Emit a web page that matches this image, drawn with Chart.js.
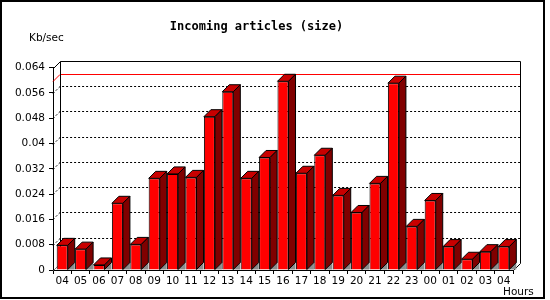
<!DOCTYPE html>
<html>
<head>
<meta charset="utf-8">
<script src="https://cdn.jsdelivr.net/npm/chart.js@4.4.1/dist/chart.umd.min.js"></script>
<style>
  html, body { margin: 0; padding: 0; background: #fff; }
  canvas { display: block; }
</style>
</head>
<body>
<canvas id="sizeChart" width="550" height="300"></canvas>
<script>
// hours shown on the x axis
const hours = ['04', '05', '06', '07', '08', '09', '10', '11', '12', '13', '14', '15', '16',
               '17', '18', '19', '20', '21', '22', '23', '00', '01', '02', '03', '04'];

// incoming article size per hour (Kb/sec)
const sizes = [0.0078, 0.0066, 0.0016, 0.0211, 0.0081, 0.0290, 0.0304, 0.0293, 0.0485, 0.0564,
               0.0290, 0.0356, 0.0597, 0.0306, 0.0363, 0.0236, 0.0182, 0.0274, 0.0591, 0.0138,
               0.0220, 0.0074, 0.0034, 0.0058, 0.0074];

// y axis ticks and their labels
const yTicks = [0, 0.008, 0.016, 0.024, 0.032, 0.04, 0.048, 0.056, 0.064];
const yTickLabels = ['0', '0.008', '0.016', '0.024', '0.032', '0.04', '0.048', '0.056', '0.064'];

// red peak line on the back wall
const peakLine = 0.0598;

const DEPTH = 7;
const LABEL_FONT = { family: 'DejaVu Sans', size: 10.5 };

// Back wall, dotted grid, peak line and 3D faces of the bars
const wallPlugin = {
    id: 'wall',
    beforeDraw(chart) {
        const ctx = chart.ctx;
        ctx.save();
        ctx.fillStyle = '#fff';
        ctx.fillRect(0, 0, chart.width, chart.height);
        ctx.restore();
    },
    beforeDatasetsDraw(chart) {
        const { ctx, chartArea, scales } = chart;
        const { left, right, top, bottom } = chartArea;
        const d = DEPTH;
        ctx.save();
        ctx.lineWidth = 1;

        // dotted grid lines
        ctx.strokeStyle = '#000';
        ctx.setLineDash([2, 2]);
        yTicks.forEach(v => {
            if (v === 0 || v === yTicks[yTicks.length - 1]) return;
            const py = Math.round(scales.y.getPixelForValue(v)) + 0.5;
            ctx.beginPath();
            ctx.moveTo(left, py);
            ctx.lineTo(left + d, py - d);
            ctx.lineTo(right + d, py - d);
            ctx.stroke();
        });
        ctx.setLineDash([]);

        // peak line
        const pk = Math.round(scales.y.getPixelForValue(peakLine)) + 0.5;
        ctx.strokeStyle = '#ff0000';
        ctx.beginPath();
        ctx.moveTo(left, pk);
        ctx.lineTo(left + d, pk - d);
        ctx.lineTo(right + d, pk - d);
        ctx.stroke();

        // wall frame
        const l = Math.round(left) + 0.5, r = Math.round(right) + 0.5;
        const t = Math.round(top) + 0.5, b = Math.round(bottom) + 0.5;
        ctx.strokeStyle = '#000';
        ctx.beginPath();
        ctx.moveTo(l, t);
        ctx.lineTo(l + d, t - d);
        ctx.lineTo(r + d, t - d);
        ctx.lineTo(r + d, b - d);
        ctx.lineTo(r, b);
        ctx.moveTo(l + d, t - d);
        ctx.lineTo(l + d, b - d);
        ctx.stroke();

        ctx.strokeStyle = '#808080';
        ctx.beginPath();
        ctx.moveTo(l, b);
        ctx.lineTo(l + d, b - d);
        ctx.stroke();
        ctx.restore();
    },
    afterDatasetsDraw(chart) {
        const ctx = chart.ctx;
        const d = DEPTH;
        const meta = chart.getDatasetMeta(0);
        ctx.save();
        ctx.lineWidth = 1;
        ctx.strokeStyle = '#000';
        meta.data.forEach(bar => {
            const { x, y, base, width } = bar.getProps(['x', 'y', 'base', 'width'], true);
            const l = x - width / 2;
            const r = x + width / 2;

            // floor shadow
            ctx.fillStyle = '#8c8c8c';
            ctx.beginPath();
            ctx.moveTo(r, base);
            ctx.lineTo(r + d, base - d);
            ctx.lineTo(r + d, base);
            ctx.closePath();
            ctx.fill();

            // top face
            ctx.fillStyle = '#c80000';
            ctx.beginPath();
            ctx.moveTo(l, y);
            ctx.lineTo(l + d, y - d);
            ctx.lineTo(r + d, y - d);
            ctx.lineTo(r, y);
            ctx.closePath();
            ctx.fill();
            ctx.stroke();

            // side face
            ctx.fillStyle = '#800000';
            ctx.beginPath();
            ctx.moveTo(r, y);
            ctx.lineTo(r + d, y - d);
            ctx.lineTo(r + d, base - d);
            ctx.lineTo(r, base);
            ctx.closePath();
            ctx.fill();
            ctx.stroke();
        });
        ctx.restore();
    },
    afterDraw(chart) {
        const ctx = chart.ctx;
        ctx.save();
        ctx.fillStyle = '#000';
        ctx.font = '10.5px "DejaVu Sans"';
        ctx.textBaseline = 'middle';
        ctx.textAlign = 'left';
        ctx.fillText('Kb/sec', 29, 38);
        ctx.fillText('Hours', 503, 292);

        ctx.strokeStyle = '#000';
        ctx.lineWidth = 2;
        ctx.strokeRect(1, 1, 543, 297);
        ctx.restore();
    }
};

new Chart(document.getElementById('sizeChart'), {
    type: 'bar',
    data: {
        labels: hours,
        datasets: [{
            label: 'Incoming articles (size)',
            data: sizes,
            backgroundColor: '#ff0000',
            borderColor: '#000',
            borderWidth: 1,
            barPercentage: 0.6,
            categoryPercentage: 1
        }]
    },
    options: {
        responsive: false,
        animation: false,
        layout: { padding: { left: 0, right: 37, top: 0, bottom: 0 } },
        plugins: {
            legend: { display: false },
            tooltip: { enabled: false },
            title: {
                display: true,
                text: 'Incoming articles (size)',
                color: '#000',
                font: { family: 'DejaVu Sans Mono', size: 12, weight: 'bold' },
                padding: { top: 20, bottom: 33.3 }
            }
        },
        scales: {
            x: {
                offset: true,
                grid: { display: true, drawOnChartArea: false, drawTicks: true, tickLength: 4, color: '#000', offset: true },
                border: { display: true, color: '#000', width: 1 },
                ticks: { color: '#000', font: LABEL_FONT, autoSkip: false, maxRotation: 0, minRotation: 0, padding: 1 },
                afterFit(scale) { scale.height = 30; }
            },
            y: {
                min: 0,
                max: 0.064,
                grid: { display: true, drawOnChartArea: false, drawTicks: true, tickLength: 4, color: '#000' },
                border: { display: true, color: '#000', width: 1 },
                ticks: {
                    color: '#000',
                    font: LABEL_FONT,
                    padding: 4,
                    callback: (value, i) => yTickLabels[i]
                },
                afterBuildTicks(scale) {
                    scale.ticks = yTicks.map(v => ({ value: v }));
                },
                afterFit(scale) { scale.width = 53; }
            }
        }
    },
    plugins: [wallPlugin]
});
</script>
</body>
</html>
